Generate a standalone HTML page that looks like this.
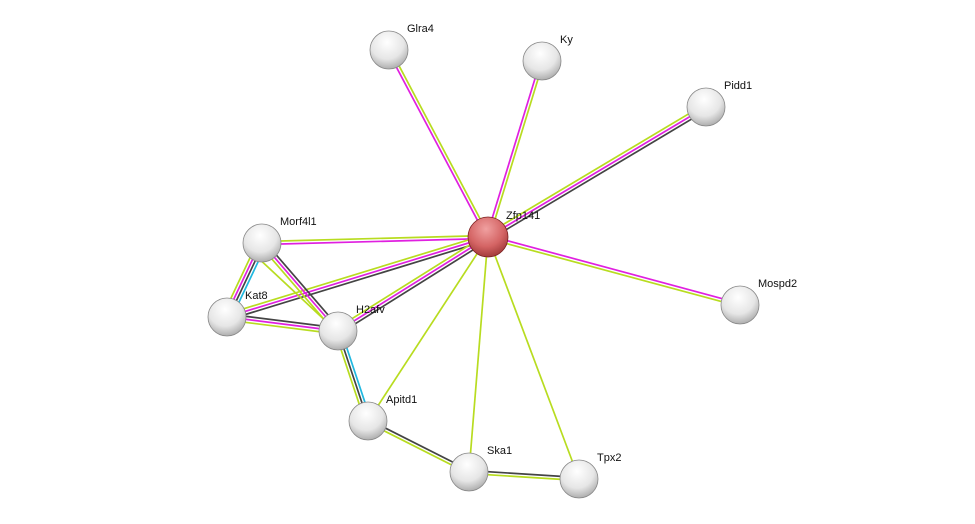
<!DOCTYPE html>
<html><head><meta charset="utf-8"><style>
html,body{margin:0;padding:0;background:#fff;}
svg{display:block}
text{font-family:"Liberation Sans",sans-serif;font-size:11px;fill:#111}
</style></head><body>
<svg id="s" width="975" height="524" xmlns="http://www.w3.org/2000/svg">
<defs>
<radialGradient id="g" cx="0.45" cy="0.3" r="0.8">
<stop offset="0" stop-color="#ffffff"/><stop offset="0.55" stop-color="#e6e6e6"/><stop offset="1" stop-color="#999"/></radialGradient>
<radialGradient id="r" cx="0.45" cy="0.3" r="0.8">
<stop offset="0" stop-color="#f0a0a0"/><stop offset="0.55" stop-color="#d46464"/><stop offset="1" stop-color="#902c2c"/></radialGradient>
</defs>
<g id="e"></g><g id="n"></g>
</svg>
<script>
var N={Glra4:[389,50],Ky:[542,61],Pidd1:[706,107],Zfp141:[488,237],Morf4l1:[262,243],Kat8:[227,317],H2afv:[338,331],Mospd2:[740,305],Apitd1:[368,421],Ska1:[469,472],Tpx2:[579,479]};
var D='#444',M='#e020e0',Y='#b8dc20',C='#20b8e0';
var E=[['Zfp141','Glra4',[M,Y]],['Zfp141','Ky',[M,Y]],['Zfp141','Pidd1',[Y,M,D]],['Zfp141','Mospd2',[M,Y]],['Zfp141','Morf4l1',[M,Y]],['Zfp141','Kat8',[D,M,Y]],['Zfp141','H2afv',[D,M,Y]],['Zfp141','Apitd1',[Y]],['Zfp141','Ska1',[Y]],['Zfp141','Tpx2',[Y]],['Morf4l1','Kat8',[C,D,M,Y]],['Morf4l1','H2afv',[D,M,Y]],['Kat8','H2afv',[D,M,Y]],['H2afv','Apitd1',[C,D,Y]],['Apitd1','Ska1',[D,Y]],['Ska1','Tpx2',[D,Y]]];
var ns='http://www.w3.org/2000/svg',ge=document.getElementById('e'),gn=document.getElementById('n');
function ln(x1,y1,x2,y2,c){var l=document.createElementNS(ns,'line');
l.setAttribute('x1',x1);l.setAttribute('y1',y1);l.setAttribute('x2',x2);l.setAttribute('y2',y2);
l.setAttribute('stroke',c);l.setAttribute('stroke-width','1.7');ge.appendChild(l);}
E.forEach(function(e){var a=N[e[0]],b=N[e[1]],dx=b[0]-a[0],dy=b[1]-a[1],L=Math.hypot(dx,dy),px=-dy/L,py=dx/L,k=e[2].length;
e[2].forEach(function(c,i){var o=(i-(k-1)/2)*3;ln(a[0]+px*o,a[1]+py*o,b[0]+px*o,b[1]+py*o,c);});});
ln(255,255,330,325,Y);
for(var k in N){var p=N[k],rr=k=='Zfp141'?20:19;var c=document.createElementNS(ns,'circle');
c.setAttribute('cx',p[0]);c.setAttribute('cy',p[1]);c.setAttribute('r',rr);c.setAttribute('fill',k=='Zfp141'?'url(#r)':'url(#g)');
c.setAttribute('stroke',k=='Zfp141'?'#7a2020':'#888');c.setAttribute('stroke-width','0.8');gn.appendChild(c);
var t=document.createElementNS(ns,'text');t.setAttribute('x',p[0]+18);t.setAttribute('y',p[1]-18);t.textContent=k;gn.appendChild(t);}
</script>
</body></html>
